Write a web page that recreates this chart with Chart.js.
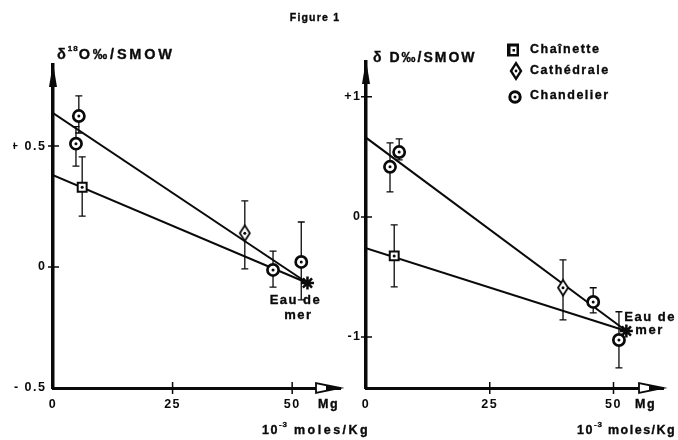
<!DOCTYPE html>
<html><head><meta charset="utf-8">
<script src="https://cdn.jsdelivr.net/npm/chart.js@4"></script>
<style>
html,body{margin:0;padding:0;background:#fff;}
#wrap{position:relative;width:678px;height:440px;overflow:hidden;background:#fff;}
canvas{position:absolute;left:0;top:0;}
</style></head><body>
<div id="wrap"><canvas id="cO" width="678" height="440"></canvas><canvas id="cD" width="678" height="440"></canvas></div>
<script>
// ---------------- data ----------------
const mgTicks = [0, 25, 50];
const oTicks = [-0.5, 0, 0.5];
const oTickLabels = ['- 0.5', '0', '+ 0.5'];
const dTicks = [-1, 0, 1];
const dTickLabels = ['-1', '0', '+1'];
const seriesNames = ['Chaînette', 'Cathédrale', 'Chandelier'];

// δ18O panel
const oChainetteMg = [6.1];
const oChainette = [0.33];
const oChainetteLow = [0.21];
const oChainetteHigh = [0.455];
const oCathedraleMg = [40.1];
const oCathedrale = [0.14];
const oCathedraleLow = [-0.008];
const oCathedraleHigh = [0.273];
const oChandelierMg = [5.4, 4.8, 46.0, 51.9];
const oChandelier = [0.624, 0.51, -0.012, 0.021];
const oChandelierLow = [0.554, 0.417, -0.083, -0.136];
const oChandelierHigh = [0.707, 0.58, 0.066, 0.186];
const oSeaMg = [53.2];
const oSea = [-0.066];
const oLineIntercepts = [0.636, 0.38];

// δD panel
const dChainetteMg = [5.7];
const dChainette = [-0.325];
const dChainetteLow = [-0.583];
const dChainetteHigh = [-0.067];
const dCathedraleMg = [39.8];
const dCathedrale = [-0.59];
const dCathedraleLow = [-0.858];
const dCathedraleHigh = [-0.358];
const dChandelierMg = [4.85, 6.7, 45.9, 51.1];
const dChandelier = [0.417, 0.54, -0.708, -1.025];
const dChandelierLow = [0.208, 0.475, -0.8, -1.258];
const dChandelierHigh = [0.617, 0.65, -0.59, -0.79];
const dSeaMg = [52.6];
const dSea = [-0.95];
const dLineIntercepts = [0.66, -0.26];

// ---------------- helpers ----------------
const FONT = "'Liberation Sans', Arial, sans-serif";
const INK = '#0a0a0a';
Chart.defaults.font.family = FONT;
Chart.defaults.color = INK;

const pts = (xs, ys) => xs.map((x, i) => ({x: x, y: ys[i]}));

function diamondPath(ctx, x, y, hw, hh) {
  ctx.beginPath();
  ctx.moveTo(x, y - hh); ctx.lineTo(x + hw, y); ctx.lineTo(x, y + hh); ctx.lineTo(x - hw, y);
  ctx.closePath();
}
const diamondImg = (() => {
  const c = document.createElement('canvas'); c.width = 14; c.height = 19;
  const g = c.getContext('2d');
  diamondPath(g, 7, 9.5, 5, 7.8);
  g.fillStyle = '#fff'; g.fill(); g.lineWidth = 1.8; g.strokeStyle = INK; g.stroke();
  return c;
})();

function txt(ctx, s, x, y, size, sp, align) {
  ctx.save();
  ctx.font = 'bold ' + size + 'px ' + FONT;
  ctx.letterSpacing = sp + 'px';
  ctx.fillStyle = INK;
  ctx.strokeStyle = INK;
  ctx.lineWidth = 0.35;
  ctx.textAlign = align || 'left';
  ctx.textBaseline = 'middle';
  ctx.fillText(s, x, y);
  ctx.strokeText(s, x, y);
  const w = ctx.measureText(s).width;
  ctx.restore();
  return w;
}
function runs(ctx, parts, x, y) {
  let cx = x;
  parts.forEach(p => { cx += txt(ctx, p.t, cx, y + (p.dy || 0), p.size, p.sp == null ? 1.5 : p.sp); });
}

function markerSets(chMg, ch, chLo, chHi, caMg, ca, caLo, caHi, cdMg, cd, cdLo, cdHi, seaMg, sea, icpts) {
  const star = pts(seaMg, sea)[0];
  return [
    {label: seriesNames[0], data: pts(chMg, ch), errLow: chLo, errHigh: chHi, centerDot: true,
     pointStyle: 'rect', pointRadius: 6.3, pointBorderWidth: 2, backgroundColor: '#fff', borderColor: INK, order: 0},
    {label: seriesNames[1], data: pts(caMg, ca), errLow: caLo, errHigh: caHi, centerDot: true,
     pointStyle: diamondImg, pointRadius: 7, backgroundColor: '#fff', borderColor: INK, order: 0},
    {label: seriesNames[2], data: pts(cdMg, cd), errLow: cdLo, errHigh: cdHi, centerDot: true,
     pointStyle: 'circle', pointRadius: 5.6, pointBorderWidth: 2.7, backgroundColor: '#fff', borderColor: INK, order: 0},
    {label: 'Eau de mer', data: [star], isSea: true,
     pointStyle: 'star', pointRadius: 6.5, pointBorderWidth: 2.5, backgroundColor: INK, borderColor: INK, order: 1},
    {label: 'fit1', data: [{x: 0, y: icpts[0]}, star], showLine: true, pointRadius: 0, borderColor: INK, borderWidth: 2, order: 3},
    {label: 'fit2', data: [{x: 0, y: icpts[1]}, star], showLine: true, pointRadius: 0, borderColor: INK, borderWidth: 2, order: 3}
  ];
}

const deco = {
  id: 'deco',
  beforeDraw(chart) { chart.ctx.letterSpacing = '1.5px'; },
  beforeDatasetsDraw(chart) {
    const ctx = chart.ctx, ys = chart.scales.y;
    chart.data.datasets.forEach((ds, i) => {
      if (!ds.errLow) return;
      chart.getDatasetMeta(i).data.forEach((pt, j) => {
        const y1 = ys.getPixelForValue(ds.errLow[j]), y2 = ys.getPixelForValue(ds.errHigh[j]);
        ctx.save(); ctx.strokeStyle = INK; ctx.lineWidth = 1.3;
        ctx.beginPath();
        ctx.moveTo(pt.x, y1); ctx.lineTo(pt.x, y2);
        ctx.moveTo(pt.x - 3.5, y1); ctx.lineTo(pt.x + 3.5, y1);
        ctx.moveTo(pt.x - 3.5, y2); ctx.lineTo(pt.x + 3.5, y2);
        ctx.stroke(); ctx.restore();
      });
    });
  },
  afterDatasetsDraw(chart) {
    const ctx = chart.ctx;
    chart.data.datasets.forEach((ds, i) => {
      if (!ds.centerDot) return;
      chart.getDatasetMeta(i).data.forEach(pt => {
        ctx.save(); ctx.fillStyle = INK; ctx.beginPath(); ctx.arc(pt.x, pt.y, 1.5, 0, Math.PI * 2); ctx.fill(); ctx.restore();
      });
    });
  },
  afterDraw(chart, args, o) {
    const ctx = chart.ctx, a = chart.chartArea, xs = chart.scales.x, ys = chart.scales.y;
    ctx.save();
    ctx.strokeStyle = INK; ctx.fillStyle = INK; ctx.lineWidth = 1.5;
    // tick marks crossing the axes
    ctx.beginPath();
    ys.ticks.forEach(t => { if (t.value === ys.min) return; const p = ys.getPixelForValue(t.value); ctx.moveTo(a.left - 5, p); ctx.lineTo(a.left + 6, p); });
    xs.ticks.forEach(t => { if (t.value === xs.min) return; const p = xs.getPixelForValue(t.value); ctx.moveTo(p, a.bottom - 6); ctx.lineTo(p, a.bottom + 6); });
    ctx.stroke();
    // y arrow
    ctx.beginPath(); ctx.moveTo(a.left, a.top - 2); ctx.lineTo(a.left + 4, a.top + 22); ctx.lineTo(a.left - 4, a.top + 22); ctx.closePath(); ctx.fill();
    // x arrow
    ctx.beginPath(); ctx.moveTo(a.right, a.bottom); ctx.lineTo(a.right - 24, a.bottom - 5); ctx.lineTo(a.right - 24, a.bottom + 5); ctx.closePath();
    ctx.fillStyle = '#fff'; ctx.fill(); ctx.lineWidth = 1.8; ctx.stroke();
    ctx.fillStyle = INK;
    ctx.beginPath(); ctx.moveTo(a.right, a.bottom); ctx.lineTo(a.right - 14, a.bottom - 3); ctx.lineTo(a.right - 14, a.bottom + 3); ctx.closePath(); ctx.fill();
    ctx.restore();

    if (o.title) txt(ctx, o.title.text, o.title.x, o.title.y, 10.5, 1.2, 'center');
    runs(ctx, o.yTitle.parts, o.yTitle.x, o.yTitle.y);
    txt(ctx, 'Mg', o.mg.x, o.mg.y, 12.5, 1.5);
    runs(ctx, [{t: '10', size: 12.5}, {t: '-3', size: 8, dy: -6, sp: 1}, {t: ' moles/Kg', size: 12.5, sp: o.unit.sp}], o.unit.x, o.unit.y);

    // sea water label, relative to the star
    const si = chart.data.datasets.findIndex(d => d.isSea);
    const sp = chart.getDatasetMeta(si).data[0];
    const e = o.eau;
    txt(ctx, 'Eau de', sp.x + e.a[0], sp.y + e.a[1], 13, 1.5, e.align);
    txt(ctx, 'mer', sp.x + e.b[0], sp.y + e.b[1], 13, 1.5, e.align);

    if (o.legend) {
      const L = o.legend;
      // square
      let x = L.x, y = L.y[0];
      ctx.save();
      ctx.fillStyle = INK; ctx.fillRect(x - 6, y - 6.5, 12, 13);
      ctx.fillStyle = '#fff'; ctx.fillRect(x - 2.5, y - 3.5, 6, 7.5);
      ctx.fillStyle = INK; ctx.fillRect(x - 0.5, y - 1, 2.5, 2.5);
      // diamond
      y = L.y[1];
      diamondPath(ctx, x + 3, y, 5, 7.8); ctx.fillStyle = '#fff'; ctx.fill(); ctx.lineWidth = 2.4; ctx.strokeStyle = INK; ctx.stroke();
      ctx.fillStyle = INK; ctx.beginPath(); ctx.arc(x + 3, y, 1.4, 0, Math.PI * 2); ctx.fill();
      // circle
      y = L.y[2];
      ctx.beginPath(); ctx.arc(x + 2, y + 1, 5.2, 0, Math.PI * 2); ctx.fillStyle = '#fff'; ctx.fill(); ctx.lineWidth = 3; ctx.stroke();
      ctx.fillStyle = INK; ctx.beginPath(); ctx.arc(x + 2, y + 1, 1.5, 0, Math.PI * 2); ctx.fill();
      ctx.restore();
      seriesNames.forEach((n, i) => txt(ctx, n, L.tx, L.y[i], 12.5, 1.5));
    }
  }
};

function scales(xMax, yMin, yMax, yTicks, yLabels, yPad) {
  return {
    x: {type: 'linear', min: 0, max: xMax,
        border: {display: true, width: 3, color: INK},
        grid: {display: false, drawTicks: false},
        afterBuildTicks: s => { s.ticks = mgTicks.map(v => ({value: v})); },
        afterFit: s => { s.height = 30; },
        ticks: {autoSkip: false, maxRotation: 0, padding: 9, color: INK, font: {size: 12.5, weight: 'bold'},
                callback: v => String(v)}},
    y: {type: 'linear', min: yMin, max: yMax,
        border: {display: true, width: 3.5, color: INK},
        grid: {display: false, drawTicks: false},
        afterBuildTicks: s => { s.ticks = yTicks.map(v => ({value: v})); },
        afterFit: s => { s.width = 40; },
        ticks: {autoSkip: false, padding: yPad, color: INK, font: {size: 12.5, weight: 'bold'},
                callback: v => { const k = yTicks.indexOf(v); return k < 0 ? '' : yLabels[k]; }}}
  };
}

function make(id, datasets, sc, padding, decoOpts) {
  return new Chart(document.getElementById(id), {
    type: 'scatter',
    data: {datasets: datasets},
    options: {
      responsive: false, animation: false, devicePixelRatio: 1, events: [],
      layout: {padding: padding},
      scales: sc,
      plugins: {legend: {display: false}, tooltip: {enabled: false}, deco: decoOpts}
    },
    plugins: [deco]
  });
}

make('cO',
  markerSets(oChainetteMg, oChainette, oChainetteLow, oChainetteHigh,
             oCathedraleMg, oCathedrale, oCathedraleLow, oCathedraleHigh,
             oChandelierMg, oChandelier, oChandelierLow, oChandelierHigh,
             oSeaMg, oSea, oLineIntercepts),
  scales(60, -0.5, 0.835, oTicks, oTickLabels, 6.5),
  {left: 13, right: 338, top: 65, bottom: 22},
  {title: {text: 'Figure 1', x: 315, y: 18},
   yTitle: {x: 57, y: 55, parts: [{t: 'δ', size: 14.5, sp: 2}, {t: '18', size: 8, dy: -6, sp: 1}, {t: 'O‰/SMOW', size: 14.5, sp: 2.8}]},
   mg: {x: 318, y: 405}, unit: {x: 262, y: 431, sp: 2.5},
   eau: {align: 'center', a: [-12, 17], b: [-9, 32]}});

make('cD',
  markerSets(dChainetteMg, dChainette, dChainetteLow, dChainetteHigh,
             dCathedraleMg, dCathedrale, dCathedraleLow, dCathedraleHigh,
             dChandelierMg, dChandelier, dChandelierLow, dChandelierHigh,
             dSeaMg, dSea, dLineIntercepts),
  scales(60, -1.425, 1.29, dTicks, dTickLabels, 4.5),
  {left: 326, right: 15, top: 62, bottom: 22},
  {yTitle: {x: 373, y: 58, parts: [{t: 'δ D‰/SMOW', size: 14, sp: 2}]},
   mg: {x: 635, y: 405}, unit: {x: 577, y: 431, sp: 1.5},
   eau: {align: 'left', a: [-2, -14], b: [9, -1]},
   legend: {x: 513, tx: 530, y: [50, 71, 96]}});
</script>
</body></html>
